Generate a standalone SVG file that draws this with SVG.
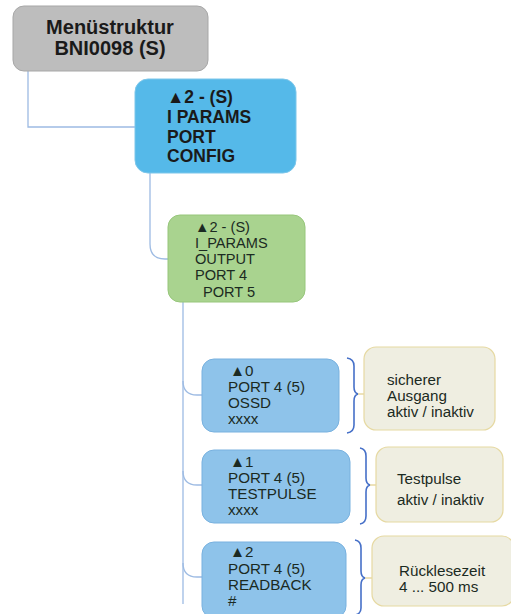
<svg xmlns="http://www.w3.org/2000/svg" width="511" height="614" viewBox="0 0 511 614">
  <style>
    .lnk { fill: none; stroke: #9dbbe3; stroke-width: 1.3; }
    .brace { fill: none; stroke: #4670c8; stroke-width: 1.6; }
    .tick { fill: none; stroke: #e2cf8c; stroke-width: 1.2; }
    .t { font-family: "Liberation Sans", Arial, sans-serif; fill: #1b2a22; }
    .h { font-weight: bold; font-size: 20px; fill: #1a1a1a; }
    .b { font-weight: bold; font-size: 17.5px; fill: #1a1a1a; }
    .g { font-size: 14.6px; }
    .r { font-size: 15.2px; }
    .root { fill: #bdbdbd; stroke: #a7a7a7; stroke-width: 1; }
    .main { fill: #55b9e9; stroke: #7cc6ea; stroke-width: 1; }
    .grn { fill: #a9d38f; stroke: #97c67b; stroke-width: 1; }
    .leaf { fill: #8ec3ea; stroke: #78b1df; stroke-width: 1; }
    .note { fill: #efeee1; stroke: #e6d9a2; stroke-width: 1.2; }
  </style>

  <!-- connectors -->
  <g id="connectors">
    <path class="lnk" d="M28 71 V127 H135"/>
    <path class="lnk" d="M150 173 V244 Q150 259 165 259 H168"/>
    <path class="lnk" d="M183 302 V604"/>
    <path class="lnk" d="M183 381 Q183 395 197 395 H202"/>
    <path class="lnk" d="M183 471 Q183 485 197 485 H202"/>
    <path class="lnk" d="M183 563 Q183 577 197 577 H202"/>
  </g>

  <g id="root">
    <rect class="root" x="13" y="6" width="195" height="65" rx="11"/>
    <text class="t h" x="110" y="34" text-anchor="middle">Menüstruktur</text>
    <text class="t h" x="110" y="55" text-anchor="middle">BNI0098 (S)</text>
  </g>

  <g id="port-config">
    <rect class="main" x="135" y="79" width="161" height="94" rx="13"/>
    <text class="t b" x="167" y="103">▲2 - (S)</text>
    <text class="t b" x="167" y="123">I PARAMS</text>
    <text class="t b" x="167" y="143">PORT</text>
    <text class="t b" x="167" y="162">CONFIG</text>
  </g>

  <g id="output-port">
    <rect class="grn" x="168" y="215" width="137" height="87" rx="12"/>
    <text class="t g" x="195" y="232">▲2 - (S)</text>
    <text class="t g" x="195" y="248">I_PARAMS</text>
    <text class="t g" x="195" y="264">OUTPUT</text>
    <text class="t g" x="195" y="280">PORT 4</text>
    <text class="t g" x="203" y="297">PORT 5</text>
  </g>

  <g id="ossd">
    <rect class="leaf" x="202" y="359" width="137" height="73" rx="12"/>
    <text class="t r" x="230" y="376">▲0</text>
    <text class="t r" x="228" y="392">PORT 4 (5)</text>
    <text class="t r" x="228" y="408">OSSD</text>
    <text class="t r" x="228" y="424">xxxx</text>
  </g>
  <g id="ossd-note">
    <path class="brace" d="M347 358 Q354 359 354 366 V387 Q354 393 358 394 Q354 395 354 401 V425 Q354 432 347 433"/>
    <path class="tick" d="M358 394 H364"/>
    <rect class="note" x="364" y="347" width="131" height="83" rx="12"/>
    <text class="t r" x="387" y="385">sicherer</text>
    <text class="t r" x="387" y="401">Ausgang</text>
    <text class="t r" x="387" y="417">aktiv / inaktiv</text>
  </g>

  <g id="testpulse">
    <rect class="leaf" x="202" y="450" width="148" height="73" rx="12"/>
    <text class="t r" x="230" y="467">▲1</text>
    <text class="t r" x="228" y="483">PORT 4 (5)</text>
    <text class="t r" x="228" y="499">TESTPULSE</text>
    <text class="t r" x="228" y="515">xxxx</text>
  </g>
  <g id="testpulse-note">
    <path class="brace" d="M360 448 Q366 449 366 456 V478 Q366 484 370 485 Q366 486 366 492 V516 Q366 523 360 524"/>
    <path class="tick" d="M370 485 H376"/>
    <rect class="note" x="376" y="447" width="127" height="75" rx="12"/>
    <text class="t r" x="397" y="484">Testpulse</text>
    <text class="t r" x="397" y="505">aktiv / inaktiv</text>
  </g>

  <g id="readback">
    <rect class="leaf" x="202" y="542" width="144" height="76" rx="12"/>
    <text class="t r" x="230" y="557">▲2</text>
    <text class="t r" x="228" y="574">PORT 4 (5)</text>
    <text class="t r" x="228" y="590">READBACK</text>
    <text class="t r" x="228" y="606">#</text>
  </g>
  <g id="readback-note">
    <path class="brace" d="M355 540 Q361 541 361 548 V571 Q361 577 365 578 Q361 579 361 585 V608 Q361 614 355 615"/>
    <path class="tick" d="M365 578 H372"/>
    <rect class="note" x="372" y="536" width="142" height="70" rx="12"/>
    <text class="t r" x="399" y="576">Rücklesezeit</text>
    <text class="t r" x="399" y="592">4 ... 500 ms</text>
  </g>
</svg>
